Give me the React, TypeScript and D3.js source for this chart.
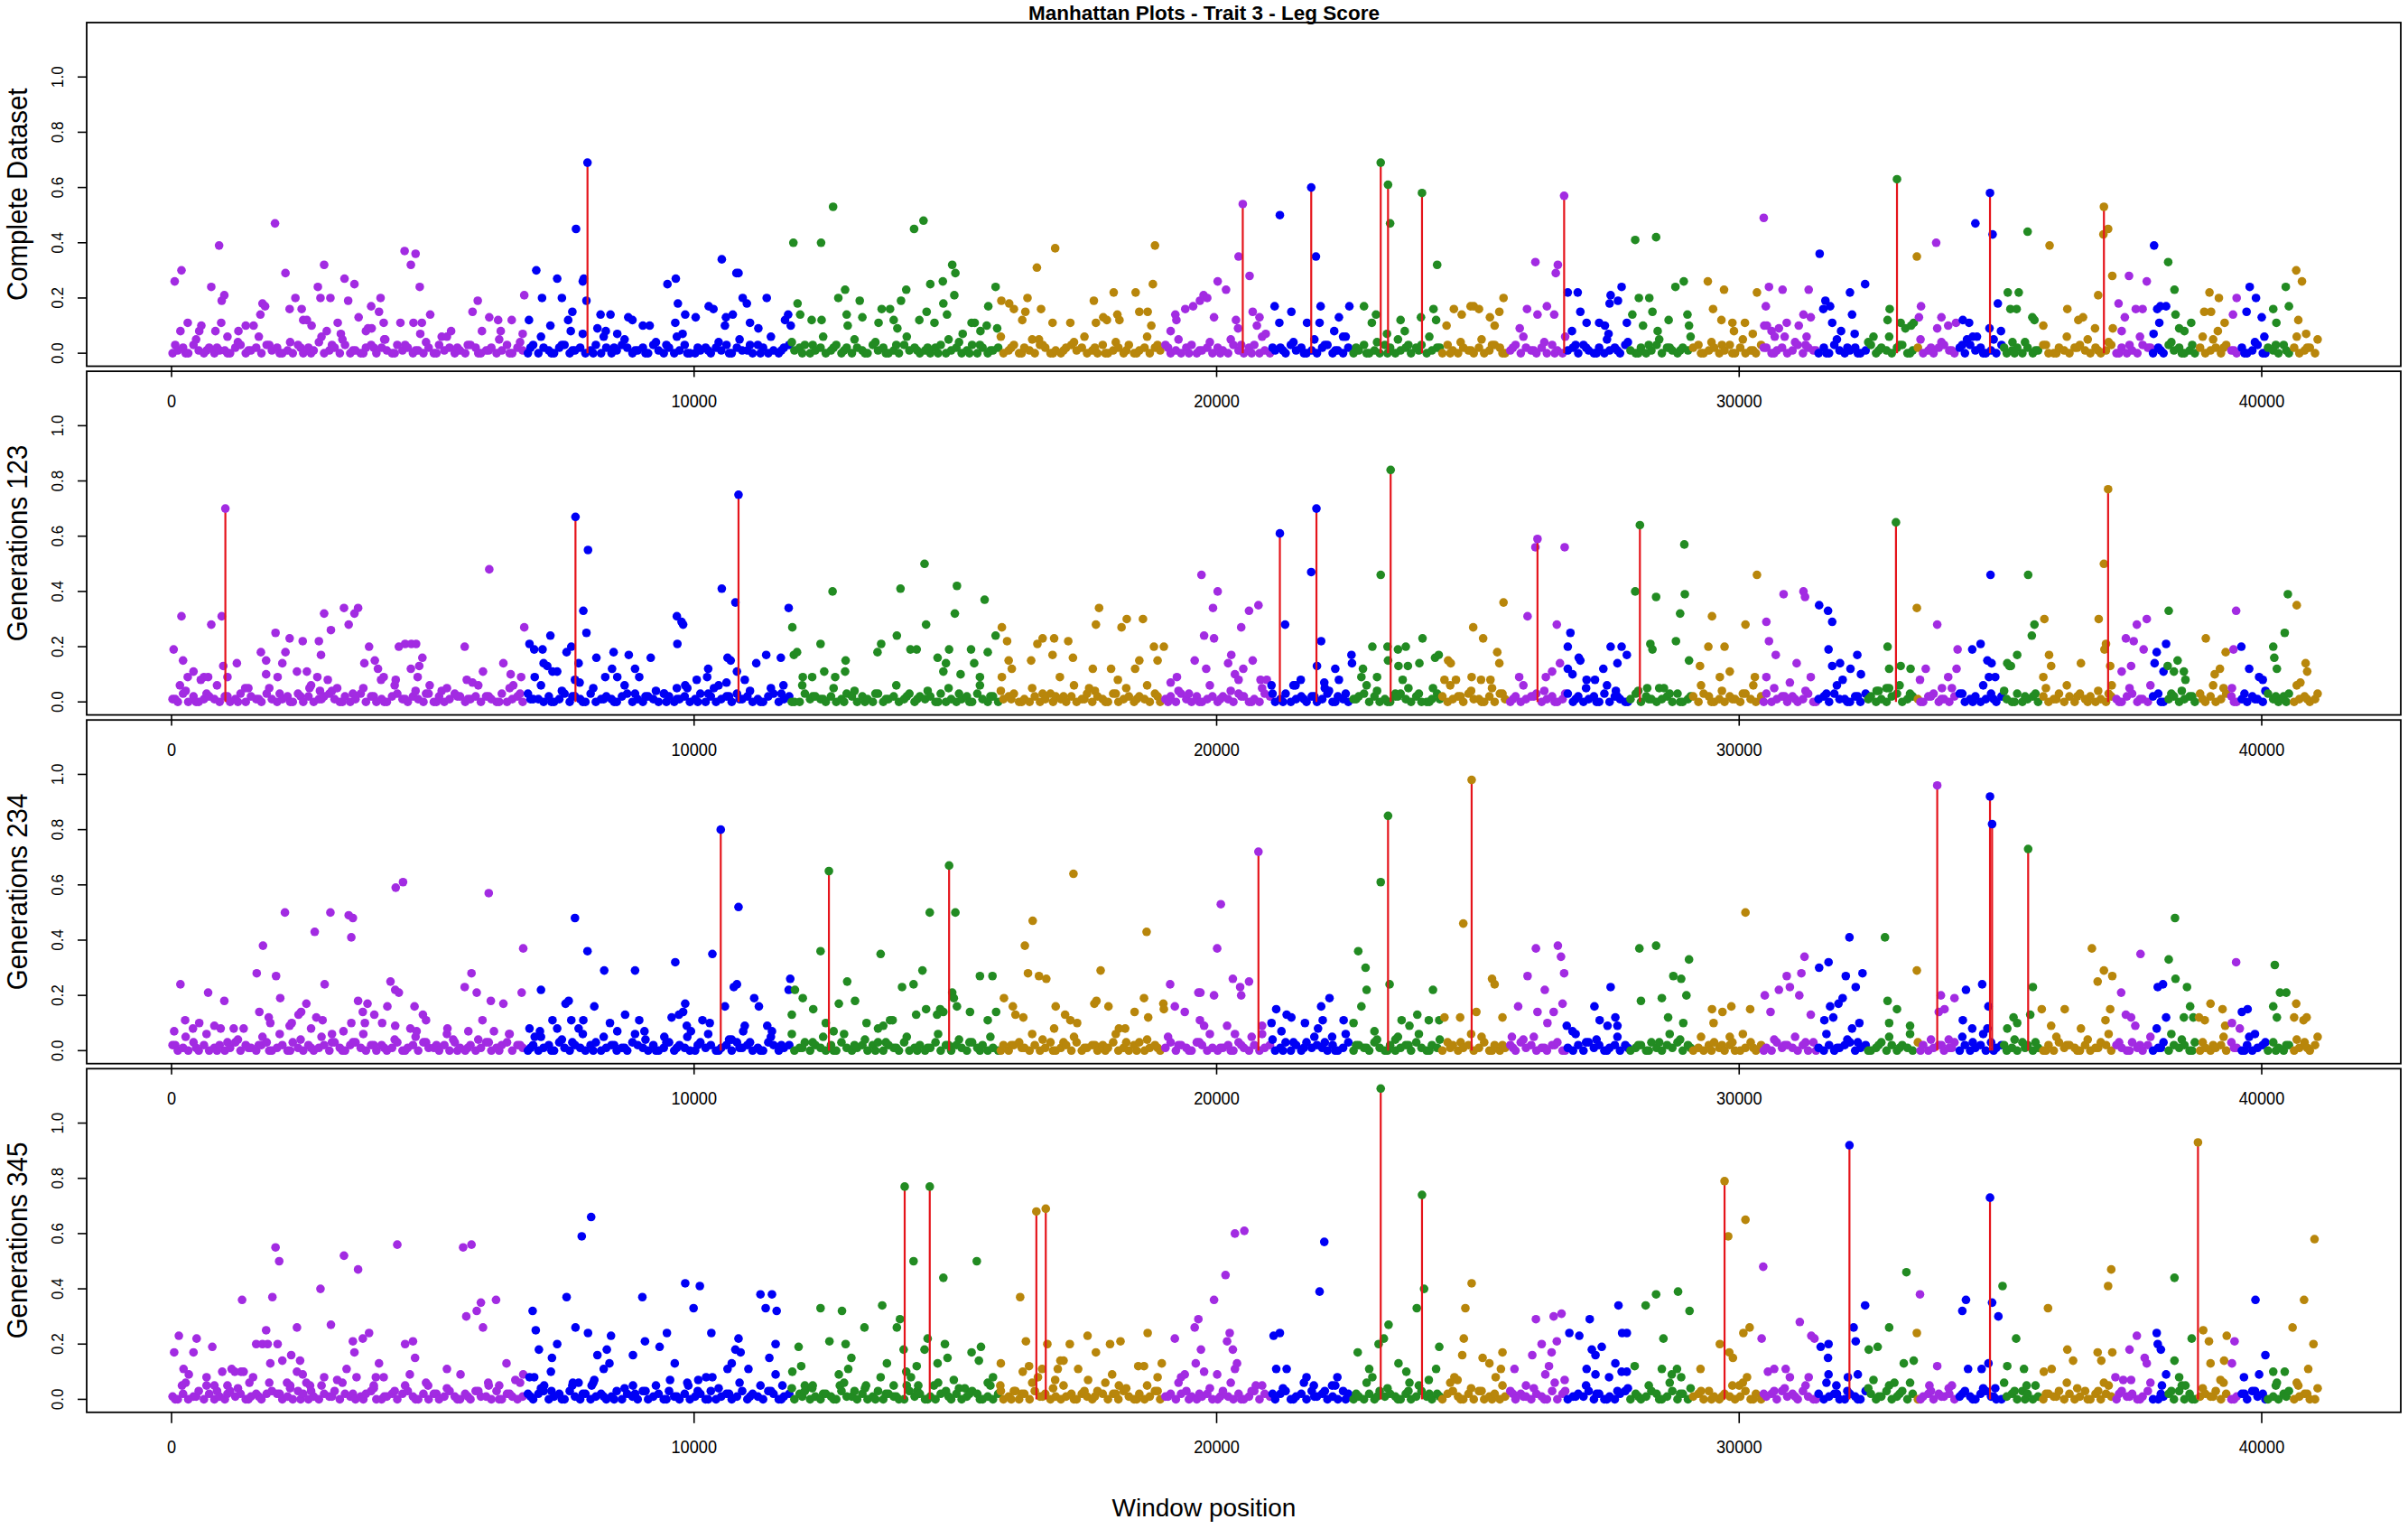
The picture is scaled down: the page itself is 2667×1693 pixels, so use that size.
import React from "react";
import * as d3 from "d3";

// ---------------- DATA ----------------
const CHROM_STARTS = [0, 6790, 11860, 15850, 19000, 21040, 22600, 24300, 25560, 26690, 27920, 29080, 30430, 31500, 32450, 33370, 33430, 34200, 35030, 35740, 37160, 37920, 38190, 38780, 39400, 39590, 40110, 40540];
const CHROM_COLORS = ["#A22BE2", "#0000F5", "#228B22", "#B8860B"];
const PANEL_LABELS = ["Complete Dataset", "Generations 123", "Generations 234", "Generations 345"];
const X_TICKS = [0, 10000, 20000, 30000, 40000];
const Y_TICKS = [0, 0.2, 0.4, 0.6, 0.8, 1.0];
const TITLE = "Manhattan Plots - Trait 3 - Leg Score";
const X_TITLE = "Window position";

// dense near-zero windows: one digit (hundredths) per window step
const BASE_START = 20;
const BASE_STEP = 100;
const BASE_P1 = "0120310201 1023012031 2010302140 1203010230 2103120102 0312010320 1201302103 0210230120 1302013201 2031020130 0120213021 1032010231 2301201302 0210312010 3120102301 2013020120 1302103201 0231201030 1203012021 3010230120 2103102301 0120312010 2301020130 1032012023 0120310210 2013201302 1020310120 3102012031 0201302102 1230120130 2010320120 1302102031 0120130210 2301201023 1020312010 3012020130 0210231020 1302010320 2031201020 1203102013 0210302012 0";
const BASE_P2 = "1030201210 2013021031 0120302012 3102013020 1023102103 0201320120 2103012031 1020130210 3012102301 0210320120 1302012031 2010230120 0312102013 2021030120 1302120301 0120310201 2301020132 1020130210 3012021030 1203102012 0210320103 2013012020 1302101230 2010231020 0132012031 1020310201 2301201302 0120302101 3021012030 1203201021 0310230120 2013012031 1020320102 3012102301 0230120130 2103012020 1302031201 0210230102 3012012030 2013201021 0310230120 1";
const BASE_P3 = "2010302012 0130210230 1203102012 0310231020 2013012031 1020310201 3012302102 0120310210 2301201032 1020130210 0312012031 2010320120 1302102031 0120230210 3012013020 2103120102 0231020130 1203012021 3010230120 1302103201 0120310201 2013020312 1020130210 3102012031 0210320120 1302012031 2010230102 0312012020 1203102130 2010231020 0130210312 1020310201 2301201302 0210320120 1302012031 2010320102 0312102013 2021031020 1302120301 0120310201 2031020130 2";
const BASE_P4 = "1020130201 0312012023 2010320102 1302101230 0120231020 2013102031 1030210120 2301203102 0120130210 3012031020 1203012013 0210320120 2301021031 1020130210 0312010230 2013201020 1302031201 0120210320 2031020130 1202310120 0310201302 1023012031 2010320102 0312102013 1020231020 3012013021 0210302012 1302010230 2013201302 0120310210 1302012031 2031020120 0210320130 1302012021 2013102310 0120320102 1302013020 2103120130 0120302012 1302012031 2010230120 0";

// second, sparser layer of low windows (hundredths), offset between the first layer
const BASE2_START = 70;
const BASE2_STEP = 200;
const BASE2_P1 = "3051204163 0420635102 5031406230 1504260317 0625104360 2140530614 0362150403 6120540316 2053014620 4106325014 0530621405 3162040531 6204153026 1406320514 0352160430 5120643105 2041630524 1360520413 0625140362 1403652104 031625";
const BASE2_P2 = "1403620515 3026140352 0614305216 2053160420 5106324015 0362140530 6215040316 2140530624 1053026140 3516204306 1420530612 5031640253 0162405316 2403150620 4153026041 3605214036 0214563021 5306140235 1620430516 0342165031 420613";
const BASE2_P3 = "2516034120 6041530362 1405326014 3062150436 0521640315 2604130526 1350624031 5016243050 2164035120 6304152036 1025640315 3062140526 0413650214 5120634051 2036415023 6104253061 4302516042 1536024130 5204163025 1640325106 302415";
const BASE2_P4 = "0615324016 2403516204 1350624013 5026143052 6104235016 3042615304 1520634021 5306142053 0261450316 2405316024 1603524061 3502614035 2160430521 4063152034 1506243015 6023415062 3041526031 5204163052 1640352106 2350416023 051624";

type Pt = [number, number];

const P1_POINTS: Pt[] = [
  [60,.26],[190,.30],[170,.08],[310,.11],[530,.08],[570,.10],[760,.24],[840,.08],[910,.39],[950,.11],[960,.19],[1010,.21],[1070,.06],[1280,.08],[1420,.10],[1570,.10],[1700,.14],[1740,.18],[1790,.17],[1980,.47],[2180,.29],[2260,.16],[2370,.20],[2490,.16],[2520,.12],[2590,.12],[2680,.10],[2800,.24],[2850,.20],[2920,.32],[2970,.08],[3040,.20],[3180,.11],[3240,.07],[3310,.27],[3380,.19],[3500,.25],[3580,.13],[3720,.08],[3760,.09],[3820,.17],[3830,.09],[3970,.15],[4000,.20],[4060,.11],[4090,.05],[4380,.11],[4460,.37],[4580,.32],[4630,.11],[4670,.36],[4750,.24],[4760,.07],[4790,.11],[4950,.14],[5170,.06],[5350,.08],[5760,.15],[5860,.19],[5940,.08],[6080,.13],[6250,.12],[6300,.08],[6510,.12],[6720,.07],[6750,.21],
  [6840,.12],[6980,.30],[7090,.20],[7250,.10],[7380,.27],[7470,.20],[7590,.12],[7640,.08],[7670,.15],[7740,.45],[7870,.26],[7890,.27],[7940,.19],[8150,.09],[8210,.14],[8310,.08],[8400,.14],[8530,.07],[8740,.13],[8820,.12],[9020,.10],[9150,.10],[9490,.25],[9640,.11],[9650,.27],[9690,.18],[9780,.07],[9830,.14],[10030,.13],[10280,.17],[10370,.16],[10530,.34],[10590,.10],[10610,.13],[10740,.14],[10810,.29],[10850,.29],[10930,.20],[11010,.18],[11070,.11],[11230,.09],[11390,.20],[11740,.12],[11800,.14],[11850,.10],
  [11900,.40],[11980,.18],[12030,.14],[12250,.12],[12430,.40],[12440,.12],[12660,.53],[12760,.20],[12890,.23],[12920,.14],[12940,.10],[13170,.19],[13220,.13],[13530,.11],[13590,.16],[13750,.16],[13820,.12],[13890,.09],[13960,.19],[14060,.23],[14210,.45],[14310,.12],[14390,.48],[14450,.15],[14520,.25],[14600,.11],[14760,.26],[14770,.18],[14840,.14],[14940,.32],[14980,.21],[15000,.29],[15140,.07],[15310,.11],[15370,.11],[15480,.08],[15600,.10],[15630,.17],[15770,.24],[15800,.09],
  [15880,.19],[16030,.18],[16120,.16],[16280,.12],[16340,.15],[16380,.20],[16560,.31],[16600,.05],[16640,.16],[16860,.11],[16910,.38],[17200,.11],[17650,.19],[17690,.11],[17830,.13],[17900,.12],[18030,.22],[18100,.14],[18140,.12],[18450,.22],[18520,.15],[18680,.15],[18750,.10],[18780,.25],[18820,.39],
  [19120,.08],[19210,.14],[19230,.12],[19400,.16],[19550,.17],[19680,.19],[19750,.21],[19820,.20],[19950,.13],[20020,.26],[20180,.23],[20370,.12],[20410,.09],[20420,.35],[20630,.28],[20690,.15],[20770,.10],[20820,.13],[20940,.07],
  [21110,.17],[21200,.11],[21210,.50],[21430,.15],[21730,.11],[21900,.35],[21970,.11],[21990,.17],[22250,.08],[22340,.13],[22420,.06],[22540,.17],
  [22820,.17],[22970,.11],[23050,.14],[23260,.07],[23320,.47],[23520,.12],[23600,.08],[23910,.13],[24150,.16],[24200,.12],[24220,.32],
  [24400,.10],[24540,.16],[24690,.14],[24860,.17],[24920,.17],[25020,.16],[25230,.13],[25320,.10],[25410,.15],[25490,.20],
  [25800,.09],[25940,.16],[26100,.33],[26140,.14],[26320,.17],[26460,.14],[26490,.29],[26530,.32],
  [26720,.22],[26800,.08],[26910,.22],[26960,.15],[27080,.11],[27320,.11],[27430,.10],[27500,.07],[27520,.18],[27540,.21],[27680,.19],[27750,.24],[27850,.11],
  [27955,.14],[28010,.41],[28080,.20],[28160,.10],[28280,.20],[28340,.15],[28410,.42],[28440,.08],[28650,.12],[28780,.24],[28940,.26],[29010,.14],[29040,.10],
  [29400,.26],[29500,.16],[29660,.12],[29710,.23],[29870,.11],[29900,.08],[30110,.11],[30260,.07],[30340,.22],
  [30470,.49],[30480,.10],[30510,.17],[30530,.10],[30570,.24],[30620,.08],[30680,.06],[30760,.09],[30830,.23],[30910,.11],[31140,.10],[31230,.14],[31290,.06],[31330,.23],[31370,.13],
  [31540,.36],[31610,.16],[31650,.19],[31740,.17],[31780,.11],[31950,.08],[32120,.22],[32160,.14],[32210,.07],[32410,.25],
  [32570,.06],[32840,.12],[32880,.16],[33090,.11],[33180,.09],[33290,.10],[33340,.11],
  [33400,.35],
  [33440,.13],[33480,.17],[33770,.40],[33790,.09],[33870,.13],[34000,.10],[34150,.11],
  [34280,.12],[34360,.05],[34400,.11],[34520,.47],[34550,.06],[34790,.09],[34850,.43],[34950,.18],[35010,.08],
  [35140,.22],[35190,.16],[35230,.04],[35310,.16],[35350,.22],[35520,.44],[35610,.13],[35650,.12],
  [35820,.10],[35940,.39],[36280,.16],[36490,.12],[36580,.13],[36810,.09],[36870,.21],[36970,.43],[37060,.45],[37140,.28],[37150,.09],
  [37260,.18],[37320,.08],[37380,.13],[37460,.28],[37590,.16],[37720,.16],[37800,.26],
  [37930,.07],[37940,.39],[38000,.16],[38040,.11],[38060,.17],[38170,.17],
  [38210,.33],[38330,.23],[38350,.14],[38420,.09],[38520,.08],[38650,.11],
  [38900,.15],[39000,.22],[39030,.15],[39160,.08],[39180,.20],[39290,.11],
  [39450,.14],[39520,.20],
  [39710,.15],[39770,.24],[39890,.20],[40000,.13],[40050,.06],
  [40220,.16],[40280,.11],[40460,.24],[40520,.17],
  [40660,.30],[40700,.12],[40770,.26],[40850,.07],
];
const P1_PEAKS: Pt[] = [[7960,.69],[20500,.54],[21810,.60],[23140,.69],[23280,.61],[23930,.58],[26650,.57],[33020,.63],[34800,.58],[36980,.53]];

const P2_POINTS: Pt[] = [
  [40,.19],[160,.06],[190,.31],[220,.15],[310,.09],[420,.11],[560,.08],[620,.09],[700,.09],[760,.28],[960,.31],[990,.13],[1070,.09],[1250,.14],[1410,.05],[1710,.18],[1810,.15],[1810,.10],[1990,.25],[2030,.09],[2120,.14],[2180,.18],[2260,.23],[2400,.11],[2510,.22],[2590,.11],[2640,.05],[2790,.09],[2820,.22],[2840,.04],[2860,.17],[2920,.32],[2990,.08],[3050,.26],[3170,.05],[3300,.34],[3390,.28],[3500,.32],[3570,.34],[3690,.14],[3780,.20],[3890,.15],[3950,.12],[4010,.08],[4060,.09],[4290,.08],[4350,.20],[4470,.21],[4580,.12],[4590,.21],[4680,.21],[4710,.09],[4740,.13],[4800,.16],[4940,.06],[5170,.04],[5610,.20],[5650,.08],[5760,.07],[5960,.11],[6080,.48],[6350,.14],[6490,.10],[6540,.06],[6690,.09],[6750,.27],
  [6850,.21],[6940,.19],[6950,.09],[7100,.19],[7120,.14],[7190,.13],[7250,.24],[7290,.11],[7380,.11],[7560,.18],[7650,.20],[7720,.08],[7790,.14],[7810,.07],[7880,.33],[7940,.25],[7970,.55],[8130,.16],[8300,.09],[8430,.12],[8460,.18],[8530,.09],[8750,.17],[8870,.12],[8950,.09],[9170,.16],[9430,.03],[9670,.05],[9670,.31],[9680,.21],[9760,.29],[9790,.28],[9830,.06],[10050,.08],[10250,.09],[10270,.12],[10380,.05],[10530,.41],[10620,.07],[10640,.16],[10700,.15],[10790,.36],[10820,.11],[10970,.08],[11190,.14],[11380,.17],[11660,.16],[11710,.06],[11810,.34],
  [11880,.27],[11910,.17],[11970,.18],[12080,.09],[12260,.09],[12420,.21],[12490,.11],[12650,.40],[12700,.09],[12890,.11],[12900,.15],[13510,.18],[13580,.21],[13880,.24],[13950,.41],[14140,.19],[14260,.19],[14410,.50],[14440,.28],[14660,.16],[14770,.11],[14820,.14],[14880,.19],[14990,.32],[15030,.42],[15100,.10],[15300,.19],[15360,.14],[15470,.09],[15560,.37],[15620,.18],[15770,.24],
  [15890,.27],[15890,.09],[15990,.22],[16020,.15],[16080,.12],[16450,.15],[16570,.21],[16670,.23],[16860,.17],[16890,.23],[17000,.09],[17160,.22],[17250,.16],[17560,.05],[17630,.12],[17690,.28],[17750,.34],[17980,.12],[18110,.08],[18180,.27],[18280,.30],[18440,.12],[18520,.15],[18590,.30],[18800,.20],[18870,.15],[18990,.20],
  [19120,.07],[19240,.09],[19580,.15],[19710,.46],[19760,.24],[19800,.12],[19930,.34],[19950,.23],[20020,.40],[20220,.14],[20280,.17],[20350,.10],[20420,.08],[20470,.27],[20510,.12],[20620,.33],[20690,.15],[20800,.35],[20840,.08],[20960,.08],
  [21050,.06],[21310,.28],[21510,.06],[21610,.08],[21810,.47],[21920,.13],[22000,.22],[22060,.07],[22150,.04],[22270,.12],[22340,.08],[22580,.17],[22590,.14],
  [22770,.09],[22800,.12],[22980,.20],[23070,.09],[23140,.46],[23270,.20],[23280,.15],[23420,.03],[23470,.19],[23480,.13],[23560,.08],[23620,.20],[23660,.13],[23880,.14],[23940,.23],[24140,.05],[24180,.16],[24250,.17],
  [24360,.08],[24430,.15],[24480,.14],[24580,.08],[24880,.09],[24910,.27],[25060,.08],[25100,.23],[25240,.08],[25370,.18],[25410,.14],[25490,.36],
  [25790,.09],[25950,.31],[26100,.56],[26300,.09],[26420,.11],[26510,.28],[26570,.14],[26660,.56],
  [26720,.20],[26720,.12],[26770,.25],[26810,.10],[26930,.16],[26960,.15],[27080,.08],[27240,.08],[27400,.12],[27540,.20],[27640,.04],[27670,.14],[27750,.20],[27850,.17],
  [28010,.40],[28240,.05],[28300,.21],[28340,.19],[28410,.38],[28560,.05],[28790,.22],[28870,.32],[28950,.57],[28960,.39],[29040,.15],
  [29250,.13],[29410,.20],[29480,.31],[29630,.09],[29720,.20],[29820,.11],[30120,.28],[30300,.09],[30340,.46],
  [30520,.29],[30520,.09],[30570,.22],[30700,.17],[30850,.39],[30970,.07],[31100,.14],[31230,.40],[31260,.38],[31370,.09],
  [31530,.35],[31700,.33],[31710,.19],[31780,.29],[31780,.13],[31930,.14],[31980,.08],[32130,.12],[32260,.17],[32330,.10],
  [32630,.04],[32820,.05],[32840,.20],[32870,.12],[33090,.13],[33280,.12],
  [33400,.34],
  [33460,.08],[33570,.12],[33790,.28],[33880,.05],[34000,.09],[34160,.12],[34180,.19],
  [34460,.19],[34620,.21],[34750,.15],[34780,.09],[34810,.46],[34830,.14],[34900,.09],
  [35130,.14],[35170,.13],[35200,.13],[35320,.17],[35530,.46],[35600,.24],[35650,.28],
  [35820,.09],[35840,.30],[35930,.17],[35970,.13],[36540,.14],[36880,.30],[36980,.50],[36990,.19],[37020,.21],[37100,.13],[37130,.06],
  [37320,.11],[37400,.23],[37500,.13],[37550,.22],[37610,.28],[37740,.19],[37800,.30],
  [37950,.14],[37990,.18],[38120,.11],[38170,.21],
  [38200,.13],[38220,.33],[38320,.11],[38390,.15],[38510,.11],[38540,.08],
  [38930,.23],[39100,.10],[39200,.12],[39310,.18],
  [39430,.05],[39460,.19],[39510,.33],
  [39610,.20],[39760,.12],[39950,.09],[40020,.08],
  [40220,.20],[40240,.16],[40290,.12],[40440,.25],[40500,.39],
  [40670,.35],[40740,.07],[40840,.14],[40870,.11],
];
const P2_PEAKS: Pt[] = [[1030,.70],[7730,.67],[10850,.75],[21210,.61],[21910,.70],[23330,.84],[26140,.59],[28100,.64],[33000,.65],[37060,.77]];

const P3_POINTS: Pt[] = [
  [50,.07],[170,.24],[260,.11],[410,.08],[530,.10],[700,.21],[820,.09],[940,.08],[1010,.18],[1190,.08],[1380,.08],[1630,.28],[1680,.14],[1740,.05],[1750,.38],[1860,.12],[1890,.10],[2000,.27],[2080,.19],[2170,.50],[2260,.09],[2300,.10],[2430,.13],[2480,.14],[2580,.17],[2670,.08],[2740,.43],[2770,.12],[2890,.11],[2930,.24],[3040,.50],[3070,.06],[3290,.07],[3390,.49],[3440,.41],[3440,.10],[3470,.48],[3570,.18],[3660,.14],[3700,.10],[3750,.17],[3880,.13],[4030,.10],[4130,.16],[4190,.25],[4280,.22],[4280,.09],[4290,.59],[4350,.21],[4430,.61],[4570,.08],[4650,.16],[4690,.07],[4810,.13],[4870,.11],[5280,.08],[5390,.04],[5610,.23],[5680,.07],[5740,.28],[5840,.21],[5950,.11],[6070,.57],[6110,.18],[6170,.07],[6350,.17],[6460,.06],[6700,.21],[6730,.37],
  [6850,.08],[6950,.05],[7050,.07],[7070,.22],[7290,.11],[7380,.08],[7540,.17],[7600,.18],[7650,.11],[7720,.48],[7790,.08],[7880,.11],[7960,.36],[8090,.16],[8280,.29],[8390,.10],[8530,.07],[8680,.13],[8870,.29],[8950,.11],[9050,.07],[9430,.05],[9570,.12],[9640,.32],[9710,.13],[9790,.14],[9830,.17],[9860,.09],[9940,.07],[10160,.11],[10300,.10],[10350,.35],[10590,.16],[10720,.04],[10760,.23],[10820,.24],[10850,.52],[10940,.07],[10970,.09],[11150,.19],[11240,.16],[11400,.09],[11490,.07],[11810,.22],
  [11840,.26],[11870,.13],[11930,.22],[12080,.19],[12280,.15],[12420,.36],[12520,.10],[12670,.07],[12770,.17],[12930,.25],[13080,.18],[13300,.10],[13520,.08],[13570,.35],[13620,.09],[13750,.11],[13800,.11],[13980,.23],[14200,.24],[14250,.13],[14370,.29],[14440,.15],[14510,.50],[14650,.13],[14710,.15],[14770,.14],[14940,.21],[14970,.19],[15000,.50],[15030,.16],[15280,.14],[15470,.27],[15620,.11],[15710,.27],[15780,.14],
  [15930,.19],[16100,.16],[16150,.13],[16300,.12],[16330,.38],[16390,.28],[16480,.47],[16600,.27],[16740,.26],[16890,.08],[16920,.16],[17100,.13],[17200,.11],[17260,.64],[17330,.10],[17660,.17],[17700,.18],[17780,.29],[17930,.16],[18130,.08],[18250,.08],[18430,.14],[18610,.19],[18660,.43],[18690,.12],[18980,.17],[18990,.15],
  [19110,.24],[19200,.16],[19390,.14],[19650,.21],[19680,.11],[19690,.21],[19760,.09],[19950,.20],[20010,.37],[20080,.53],[20200,.09],[20310,.26],[20350,.06],[20450,.23],[20470,.20],[20620,.25],[20870,.09],
  [21050,.10],[21140,.15],[21240,.07],[21340,.13],[21430,.12],[21690,.10],[21940,.08],[22000,.16],[22030,.11],[22160,.19],[22210,.05],[22430,.11],
  [22620,.10],[22710,.36],[22770,.16],[22850,.30],[22870,.22],[23020,.07],[23140,.61],[23310,.24],[23420,.04],[23540,.11],[23690,.09],[23840,.13],[24060,.11],[24140,.22],[24260,.11],
  [24360,.12],[24660,.12],[24720,.46],[24970,.14],[25270,.26],[25320,.24],[25470,.12],
  [25650,.05],[25770,.16],[25950,.27],[26110,.37],[26140,.14],[26280,.22],[26330,.10],[26450,.14],[26530,.38],[26590,.34],[26620,.17],[26650,.28],
  [26700,.09],[26810,.07],[27230,.16],[27330,.11],[27480,.09],[27540,.23],[27630,.12],[27670,.09],
  [28090,.37],[28120,.18],[28410,.38],[28520,.19],[28640,.12],[28740,.27],[28890,.26],[28930,.10],[28990,.20],[29040,.33],
  [29480,.15],[29510,.10],[29680,.14],[29820,.05],[29850,.16],[30120,.50],[30210,.15],
  [30490,.20],[30600,.14],[30760,.22],[30910,.27],[30970,.23],[31150,.20],[31190,.28],[31250,.34],[31370,.13],
  [31530,.30],[31630,.11],[31710,.32],[31740,.16],[31800,.12],[31900,.17],[31980,.19],[32040,.27],[32110,.41],[32160,.08],[32230,.23],[32300,.10],[32360,.28],
  [32790,.41],[32840,.18],[32870,.10],[33020,.15],[33270,.09],
  [33400,.29],
  [33820,.14],[33860,.20],[33930,.15],[34010,.04],[34120,.19],
  [34280,.11],[34340,.22],[34460,.08],[34650,.24],[34750,.08],[34770,.16],
  [35130,.08],[35250,.12],[35320,.10],[35570,.13],[35620,.23],
  [35790,.15],[35970,.09],[36230,.15],[36540,.08],[36750,.37],[36860,.25],[36980,.29],[37010,.11],[37100,.15],[37140,.27],
  [37310,.21],[37400,.13],[37500,.12],[37580,.09],[37680,.35],
  [37990,.08],[38010,.23],[38110,.24],[38170,.12],
  [38220,.33],[38340,.48],[38350,.26],[38510,.12],[38570,.23],[38630,.16],[38690,.12],
  [38800,.12],[38910,.11],[39020,.17],[39250,.15],[39300,.09],
  [39430,.10],[39510,.32],[39580,.08],
  [39620,.14],[39730,.15],[39760,.05],
  [40220,.16],[40250,.31],[40290,.12],[40350,.21],[40470,.21],
  [40620,.12],[40660,.17],[40800,.11],[40860,.12],
];
const P3_PEAKS: Pt[] = [[10510,.80],[12580,.65],[14880,.67],[20800,.72],[23280,.85],[24880,.98],[33790,.96],[34800,.92],[34840,.82],[35530,.73]];

const P4_POINTS: Pt[] = [
  [50,.17],[140,.23],[200,.05],[230,.11],[330,.09],[420,.17],[480,.22],[670,.08],[780,.19],[820,.05],[970,.10],[1070,.05],[1150,.11],[1210,.10],[1330,.10],[1350,.36],[1380,.10],[1490,.06],[1560,.08],[1620,.20],[1740,.20],[1810,.25],[1840,.20],[1890,.13],[1930,.37],[1990,.55],[2030,.20],[2060,.50],[2120,.14],[2210,.06],[2270,.05],[2290,.16],[2400,.26],[2400,.10],[2460,.14],[2510,.09],[2580,.06],[2650,.05],[2850,.40],[2920,.08],[3050,.27],[3170,.07],[3300,.52],[3350,.11],[3470,.21],[3500,.17],[3540,.08],[3570,.47],[3660,.22],[3780,.24],[3870,.05],[3910,.08],[3970,.13],[4060,.08],[4320,.56],[4470,.20],[4560,.09],[4620,.21],[4660,.15],[4910,.05],[5270,.11],[5530,.09],[5580,.55],[5640,.30],[5740,.56],[5840,.32],[5920,.35],[5960,.26],[6060,.06],[6210,.36],[6270,.05],[6410,.13],[6580,.07],[6730,.09],
  [6850,.08],[6910,.32],[6940,.08],[6970,.25],[7030,.18],[7130,.05],[7260,.10],[7280,.15],[7380,.20],[7560,.37],[7680,.06],[7730,.26],[7790,.06],[7850,.59],[7970,.24],[8030,.66],[8040,.05],[8090,.07],[8150,.16],[8270,.11],[8330,.18],[8380,.13],[8410,.23],[8830,.16],[8830,.05],[9010,.37],[9060,.21],[9340,.19],[9480,.24],[9540,.07],[9630,.13],[9830,.42],[9890,.05],[9990,.33],[10080,.07],[10110,.41],[10230,.08],[10330,.24],[10350,.08],[10640,.11],[10720,.13],[10790,.18],[10850,.22],[10890,.17],[11040,.11],[11270,.38],[11370,.33],[11440,.15],[11490,.38],[11560,.20],[11560,.09],[11580,.32],[11690,.05],
  [11880,.10],[12000,.19],[12050,.12],[12120,.05],[12260,.04],[12420,.33],[12590,.21],[12770,.09],[12790,.05],[12830,.32],[12900,.20],[12950,.11],[13010,.15],[13260,.26],[13290,.05],[13570,.08],[13600,.34],[13690,.13],[13820,.05],[13880,.26],[13940,.29],[14010,.18],[14060,.10],[14150,.08],[14200,.50],[14260,.12],[14290,.05],[14410,.18],[14470,.22],[14590,.05],[14660,.13],[14770,.44],[14800,.20],[14850,.15],[14970,.07],[15180,.04],[15310,.17],[15410,.50],[15450,.14],[15490,.19],[15620,.06],[15720,.08],
  [15860,.05],[15870,.13],[16150,.03],[16240,.37],[16290,.10],[16350,.21],[16410,.12],[16580,.08],[16660,.11],[16760,.20],[16910,.07],[16960,.11],[17010,.14],[17070,.14],[17190,.20],[17350,.11],[17530,.23],[17540,.07],[17690,.17],[17960,.20],[18000,.09],[18130,.05],[18160,.21],[18500,.12],[18610,.12],[18680,.24],[18870,.08],[18950,.13],
  [19200,.22],[19320,.08],[19390,.09],[19580,.26],[19600,.13],[19650,.29],[19700,.18],[19760,.10],[19950,.36],[20010,.09],[20170,.45],[20200,.21],[20250,.24],[20310,.18],[20350,.60],[20350,.11],[20390,.13],[20530,.61],[20750,.05],
  [21090,.23],[21140,.11],[21210,.24],[21340,.11],[21720,.08],[21860,.05],[21970,.39],[22060,.57],[22210,.05],[22310,.08],
  [22700,.17],[22920,.11],[22980,.08],[23100,.20],[23200,.22],[23290,.27],[23480,.13],[23630,.10],[23690,.06],[23830,.33],[23970,.40],[24060,.07],[24200,.11],[24260,.19],
  [24550,.08],[24610,.07],[24700,.16],[24730,.22],[24760,.33],[24880,.42],[25090,.15],[25220,.13],[25340,.08],[25440,.11],[25470,.17],
  [25700,.11],[25920,.05],[26040,.16],[26110,.29],[26220,.20],[26290,.09],[26360,.12],[26410,.17],[26450,.30],[26510,.21],[26600,.31],[26660,.07],
  [26750,.24],[26940,.23],[27080,.11],[27140,.29],[27180,.18],[27250,.16],[27250,.09],[27370,.19],[27510,.08],[27630,.13],[27690,.34],[27750,.10],[27760,.24],[27850,.10],[27850,.24],
  [28000,.12],[28210,.34],[28410,.38],[28520,.11],[28550,.22],[28710,.09],[28810,.11],[28830,.39],[28890,.08],[29050,.32],
  [29260,.11],[29630,.20],[29790,.59],[29810,.17],[29880,.15],[30000,.05],[30080,.24],[30120,.65],[30150,.08],[30200,.26],
  [30430,.22],[30460,.48],[30550,.10],[30670,.11],[30890,.11],[30970,.08],[31160,.28],[31330,.08],[31380,.23],[31440,.22],
  [31560,.19],[31700,.15],[31710,.20],[31710,.09],[31860,.05],[32080,.08],[32190,.26],[32230,.21],[32270,.09],[32410,.34],
  [32480,.18],[32570,.07],[32650,.19],[32870,.26],[32970,.06],[33150,.13],[33200,.46],[33340,.14],
  [33400,.24],
  [33460,.38],[33640,.05],[33790,.12],[34010,.04],
  [34270,.32],[34340,.36],[34380,.11],[34640,.11],[34770,.13],[34840,.35],[34900,.04],[34960,.30],
  [35040,.41],[35130,.12],[35300,.22],[35450,.11],[35500,.05],
  [35830,.10],[35910,.33],[35980,.11],[36280,.18],[36390,.14],[36860,.17],[36930,.14],[36980,.06],[37060,.41],[37120,.47],[37140,.17],
  [37200,.08],[37350,.07],[37470,.18],[37500,.07],[37610,.23],[37760,.15],[37800,.13],
  [37990,.24],[38010,.20],[38070,.18],[38090,.05],[38170,.09],
  [38330,.44],[38330,.14],[38420,.08],[38540,.05],[38660,.22],
  [38880,.25],[38990,.21],[39020,.13],[39210,.07],[39280,.14],[39330,.23],
  [39430,.13],[39480,.21],
  [39660,.08],[39880,.36],[39950,.09],[40070,.16],
  [40220,.10],[40290,.06],[40440,.10],
  [40590,.26],[40700,.05],[40810,.36],[40890,.11],[40990,.20],[41010,.58],
];
const P4_PEAKS: Pt[] = [[14030,.77],[14510,.77],[16550,.68],[16730,.69],[23140,1.125],[23930,.74],[29720,.79],[32110,.92],[34800,.73],[38780,.93]];

const PANEL_POINTS = [P1_POINTS, P2_POINTS, P3_POINTS, P4_POINTS];
const PANEL_PEAKS = [P1_PEAKS, P2_PEAKS, P3_PEAKS, P4_PEAKS];
const PANEL_BASES = [BASE_P1, BASE_P2, BASE_P3, BASE_P4];
const PANEL_BASES2 = [BASE2_P1, BASE2_P2, BASE2_P3, BASE2_P4];

// ---------------- LAYOUT ----------------
const W = 2667;
const H = 1693;
const BOX_LEFT = 96;
const BOX_RIGHT = 2659;
const PANEL_TOP0 = 25;
const PANEL_STEP = 386.1;
const PANEL_H = 380.5;
const FONT = "'Liberation Sans', Arial, Helvetica, sans-serif";
const PEAK_COLOR = "#E5141B";
const R = 4.8;

function colorAt(x: number): string {
  const i = d3.bisectRight(CHROM_STARTS, x) - 1;
  return CHROM_COLORS[((i % 4) + 4) % 4];
}

function parseBase(s: string, start: number, step: number): Pt[] {
  return s.replace(/\s+/g, "").split("").map((c, i) => [start + i * step, Number(c) / 100] as Pt);
}

const xScale = d3.scaleLinear().domain([0, 40000]).range([190, 2505]);

function Panel({ index }: { index: number }) {
  const top = PANEL_TOP0 + index * PANEL_STEP;
  const bottom = top + PANEL_H;
  const yScale = d3.scaleLinear().domain([-0.047, 1.197]).range([bottom, top]);
  const pts = [
    ...parseBase(PANEL_BASES[index], BASE_START, BASE_STEP),
    ...parseBase(PANEL_BASES2[index], BASE2_START, BASE2_STEP),
    ...PANEL_POINTS[index],
  ].sort((a, b) => a[0] - b[0]);
  const peaks = PANEL_PEAKS[index];
  const yFmt = d3.format(".1f");
  const midY = (top + bottom) / 2;
  return (
    <g>
      <g>
        {pts.map((p, i) => (
          <circle key={i} cx={xScale(p[0])} cy={yScale(p[1])} r={R} fill={colorAt(p[0])} />
        ))}
      </g>
      <g>
        {peaks.map((p, i) => (
          <line key={i} x1={xScale(p[0])} x2={xScale(p[0])} y1={yScale(0)} y2={yScale(p[1])} stroke={PEAK_COLOR} strokeWidth={2.2} />
        ))}
        {peaks.map((p, i) => (
          <circle key={"c" + i} cx={xScale(p[0])} cy={yScale(p[1])} r={R} fill={colorAt(p[0])} />
        ))}
      </g>
      <rect x={BOX_LEFT} y={top} width={BOX_RIGHT - BOX_LEFT} height={PANEL_H} fill="none" stroke="#000" strokeWidth={1.8} />
      {Y_TICKS.map((t) => (
        <g key={t}>
          <line x1={BOX_LEFT - 10} x2={BOX_LEFT} y1={yScale(t)} y2={yScale(t)} stroke="#000" strokeWidth={1.6} />
          <text transform={`translate(70,${yScale(t)}) rotate(-90) scale(0.9,1)`} textAnchor="middle" fontFamily={FONT} fontSize={19} fill="#000">
            {yFmt(t)}
          </text>
        </g>
      ))}
      {X_TICKS.map((t) => (
        <g key={t}>
          <line x1={xScale(t)} x2={xScale(t)} y1={bottom} y2={bottom + 12} stroke="#000" strokeWidth={1.6} />
          <text transform={`translate(${xScale(t)},${bottom + 45}) scale(0.865,1)`} textAnchor="middle" fontFamily={FONT} fontSize={21} fill="#000">
            {String(t)}
          </text>
        </g>
      ))}
      <text transform={`translate(30,${midY}) rotate(-90) scale(0.92,1)`} textAnchor="middle" fontFamily={FONT} fontSize={32} fill="#000">
        {PANEL_LABELS[index]}
      </text>
    </g>
  );
}

export default function App() {
  return (
    <svg width={W} height={H} viewBox={`0 0 ${W} ${H}`} style={{ position: "absolute", left: 0, top: 0, background: "#fff" }}>
      <rect x={0} y={0} width={W} height={H} fill="#fff" />
      {PANEL_LABELS.map((_, i) => (
        <Panel key={i} index={i} />
      ))}
      <text x={W / 2} y={21.5} textAnchor="middle" fontFamily={FONT} fontWeight="bold" fontSize={22.5} fill="#000">
        {TITLE}
      </text>
      <text x={W / 2} y={1679} textAnchor="middle" fontFamily={FONT} fontSize={28} fill="#000">
        {X_TITLE}
      </text>
    </svg>
  );
}
